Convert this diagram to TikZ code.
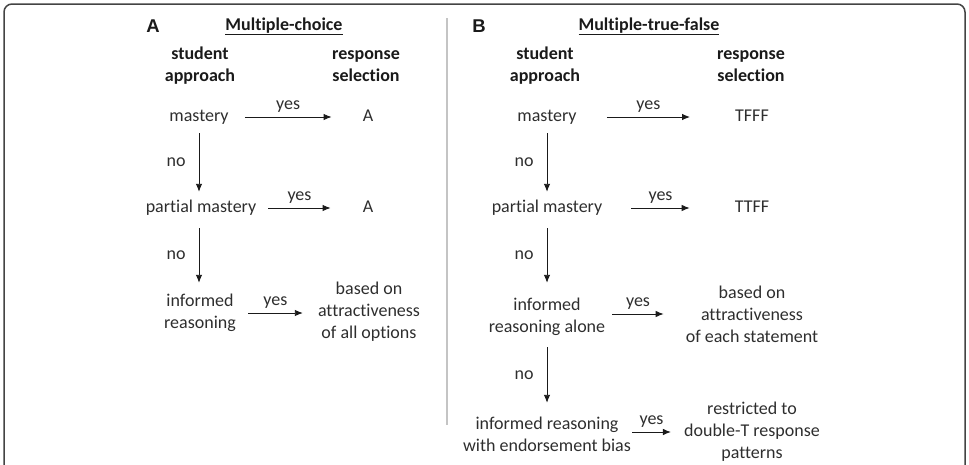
\documentclass[tikz,border=0pt]{standalone}
\usepackage{fontspec}
\setmainfont{Carlito}[Ligatures=NoCommon]
\newfontfamily\arialfont{Liberation Sans}
\usetikzlibrary{arrows.meta}
\definecolor{txt}{HTML}{2E2E2E}
\definecolor{ink}{HTML}{1A1A1A}
\definecolor{frame}{HTML}{444444}
\definecolor{divider}{HTML}{C4C4C4}
\begin{document}
\begin{tikzpicture}[x=1pt,y=-1pt,
  lbl/.style={inner sep=0pt, text=txt, font=\fontsize{18}{22}\selectfont, align=center},
  head/.style={lbl, text=ink, font=\fontsize{18}{22}\selectfont\bfseries},
  panel/.style={inner sep=0pt, text=ink, font=\fontsize{18.5}{22}\selectfont\arialfont\bfseries},
  ttl/.style={inner sep=0pt, text=ink, font=\fontsize{18}{22}\selectfont\bfseries, anchor=base},
  arr/.style={draw=ink, line width=0.9pt, -{Latex[length=8pt,width=6.5pt]}},
  yes/.style={lbl, midway, above},
  no/.style={lbl, midway, left=13pt}]
\useasboundingbox (0,0) rectangle (969,464);
\clip (0,0) rectangle (969,464);
\draw[frame, line width=1.5pt, rounded corners=8pt] (4,4) rectangle (965,490);
\draw[divider, line width=1.2pt] (447,18) -- (447,425);

% Panel A
\node[panel] (pA) at (153,26) {A};
\node[ttl] (tA) at (284,30) {\underline{Multiple-choice}};
\node[head] (hA1) at (200,66.5) {\strut student\\\strut approach};
\node[head] (hA2) at (366,66.5) {\strut response\\\strut selection};
\node[lbl] (mA) at (199,117) {\strut mastery};
\node[lbl] (rA1) at (368,117) {\strut A};
\node[lbl] (pmA) at (201,208) {\strut partial mastery};
\node[lbl] (rA2) at (368,208) {\strut A};
\node[lbl] (irA) at (200,313) {\strut informed\\\strut reasoning};
\node[lbl] (rA3) at (369,312) {\strut based on\\\strut attractiveness\\\strut of all options};

\draw[arr] ([xshift=16pt]mA.east) -- node[yes]{\strut yes} ([xshift=-31pt]mA.east -| rA1.west);
\draw[arr] ([xshift=12pt]pmA.east) -- node[yes]{\strut yes} ([xshift=-32pt]pmA.east -| rA2.west);
\draw[arr] ([xshift=12pt]irA.east) -- node[yes]{\strut yes} ([xshift=-15pt]irA.east -| rA3.west);
\draw[arr] ([yshift=-5pt]mA.south) -- node[no]{\strut no} ([yshift=5pt]mA.south |- pmA.north);
\draw[arr] ([yshift=-9pt]mA.south |- pmA.south) -- node[no]{\strut no} ([yshift=8pt]mA.south |- irA.north);

% Panel B
\node[panel] (pB) at (479,26) {B};
\node[ttl] (tB) at (649,30) {\underline{Multiple-true-false}};
\node[head] (hB1) at (545,66.5) {\strut student\\\strut approach};
\node[head] (hB2) at (751,66.5) {\strut response\\\strut selection};
\node[lbl] (mB) at (547,117) {\strut mastery};
\node[lbl] (rB1) at (752,117) {\strut TFFF};
\node[lbl] (pmB) at (547,208) {\strut partial mastery};
\node[lbl] (rB2) at (752,208) {\strut TTFF};
\node[lbl] (irB) at (547,317) {\strut informed\\\strut reasoning alone};
\node[lbl] (rB3) at (752,316) {\strut based on\\\strut attractiveness\\\strut of each statement};
\node[lbl] (erB) at (547,436) {\strut informed reasoning\\\strut with endorsement bias};
\node[lbl] (rB4) at (752,432) {\strut restricted to\\\strut double-T response\\\strut patterns};

\draw[arr] ([xshift=30pt]mB.east) -- node[yes]{\strut yes} ([xshift=-45pt]mB.east -| rB1.west);
\draw[arr] ([xshift=29pt]pmB.east) -- node[yes]{\strut yes} ([xshift=-45pt]pmB.east -| rB2.west);
\draw[arr] ([xshift=7pt,yshift=3pt]irB.east) -- node[yes]{\strut yes} ([xshift=-22pt,yshift=3pt]irB.east -| rB3.west);
\draw[arr] ([xshift=1pt,yshift=4pt]erB.east) -- node[yes]{\strut yes} ([xshift=-13pt,yshift=4pt]erB.east -| rB4.west);
\draw[arr] ([yshift=-5pt]mB.south) -- node[no]{\strut no} ([yshift=5pt]mB.south |- pmB.north);
\draw[arr] ([yshift=-9pt]mB.south |- pmB.south) -- node[no]{\strut no} ([yshift=12pt]mB.south |- irB.north);
\draw[arr] ([yshift=-8pt]mB.south |- irB.south) -- node[no]{\strut no} ([yshift=11pt]mB.south |- erB.north);
\end{tikzpicture}
\end{document}
